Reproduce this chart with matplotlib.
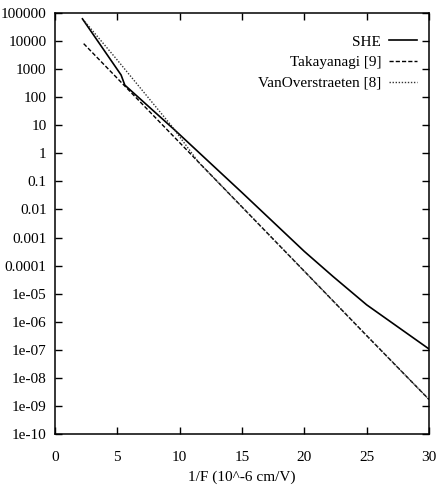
import matplotlib
matplotlib.use("Agg")
import matplotlib.pyplot as plt
from matplotlib.ticker import FixedLocator, FixedFormatter

# Data (x = 1/F in 10^-6 cm/V)
she_x = [2.2, 5.3, 5.6, 9.6, 15.0, 20.0, 22.3, 25.0, 30.0]
she_y = [6.2e4, 620, 270, 6.8, 0.04, 3.2e-4, 4.1e-5, 4.0e-6, 1.07e-7]

taka_x = [2.3, 5.0, 10.0, 15.0, 20.0, 25.0, 30.0]
taka_y = [8100, 470, 2.4, 0.0123, 6.3e-5, 3.2e-7, 1.7e-9]

van_x = [2.4, 5.0, 9.4, 11.5, 15.0, 20.0, 25.0, 30.0]
van_y = [4.9e4, 2.1e3, 8.9, 0.49, 0.0123, 6.3e-5, 3.2e-7, 1.7e-9]

ytick_vals = [1e5, 1e4, 1e3, 1e2, 1e1, 1, 0.1, 0.01, 1e-3, 1e-4, 1e-5, 1e-6, 1e-7, 1e-8, 1e-9, 1e-10]
ytick_labels = ["100000", "10000", "1000", "100", "10", "1", "0.1", "0.01", "0.001",
                "0.0001", "1e-05", "1e-06", "1e-07", "1e-08", "1e-09", "1e-10"]
xtick_vals = [0, 5, 10, 15, 20, 25, 30]
xtick_labels = ["0", "5", "10", "15", "20", "25", "30"]

plt.rcParams['font.family'] = ['Liberation Serif', 'DejaVu Serif']

fig = plt.figure(figsize=(4.38, 4.94), dpi=100)
ax = fig.add_axes([55/438, 1-434/494, (429-55)/438, (434-13)/494])

ax.plot(she_x, she_y, color='black', lw=1.2, linestyle='-', label='SHE')
ax.plot(taka_x, taka_y, color='black', lw=1.0, linestyle=(0, (3, 1.5)), label='Takayanagi [9]')
ax.plot(van_x, van_y, color='#333333', lw=1.0, linestyle=(0, (1, 1.2)), label='VanOverstraeten [8]')

ax.set_yscale('log')
ax.set_xlim(0, 30)
ax.set_ylim(1e-10, 1e5)
ax.yaxis.set_major_locator(FixedLocator(ytick_vals))
ax.yaxis.set_major_formatter(FixedFormatter(ytick_labels))
ax.yaxis.set_minor_locator(FixedLocator([]))
ax.xaxis.set_major_locator(FixedLocator(xtick_vals))
ax.xaxis.set_major_formatter(FixedFormatter(xtick_labels))

ax.tick_params(axis='both', which='major', direction='in', length=5, width=1,
               top=True, right=True, labelsize=11)
ax.tick_params(axis='y', pad=6)
ax.tick_params(axis='x', pad=12)
for s in ax.spines.values():
    s.set_linewidth(1.1)

ax.set_xlabel('1/F (10^-6 cm/V)', fontsize=11, labelpad=5)

ax.legend(loc='upper right', bbox_to_anchor=(0.984, 0.962), frameon=False,
          markerfirst=False, fontsize=11, handlelength=1.8, handletextpad=0.55,
          labelspacing=0.45, borderaxespad=0.0)

fig.savefig('out.png', dpi=100)
